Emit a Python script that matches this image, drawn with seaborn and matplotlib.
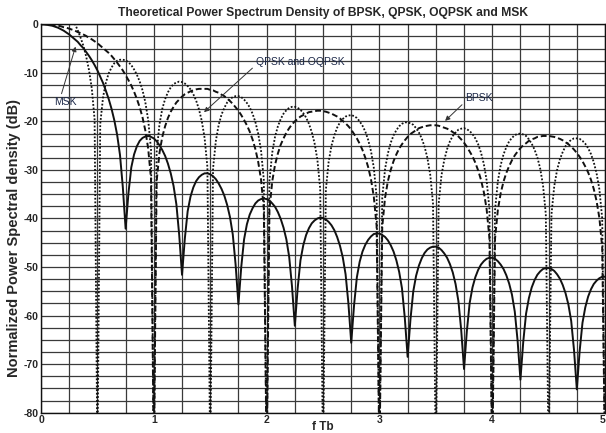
import numpy as np
import pandas as pd
import seaborn as sns
import matplotlib.pyplot as plt

# normalized frequency f*Tb, sampled every 0.025 from 0 to 5
f_tb = np.round(np.arange(201) * 0.025, 3)

# PSD values in dB (-90 = null that runs off the bottom)
bpsk_db = [
    0.0, -0.0, -0.0, -0.1, -0.1, -0.2, -0.3, -0.4, -0.6, -0.7,
    -0.9, -1.1, -1.3, -1.6, -1.8, -2.1, -2.4, -2.8, -3.1, -3.5,
    -3.9, -4.4, -4.9, -5.4, -5.9, -6.5, -7.2, -7.9, -8.7, -9.5,
    -10.5, -11.5, -12.6, -13.9, -15.4, -17.1, -19.2, -21.9, -25.6, -31.8,
    -90, -32.3, -26.5, -23.2, -21.0, -19.3, -18.0, -17.0, -16.1, -15.5,
    -14.9, -14.4, -14.1, -13.8, -13.6, -13.4, -13.3, -13.3, -13.3, -13.3,
    -13.5, -13.6, -13.9, -14.1, -14.5, -14.8, -15.3, -15.8, -16.4, -17.1,
    -17.8, -18.7, -19.7, -20.8, -22.1, -23.7, -25.7, -28.3, -31.9, -38.0,
    -90, -38.2, -32.3, -28.9, -26.6, -24.8, -23.5, -22.3, -21.4, -20.6,
    -20.0, -19.5, -19.0, -18.7, -18.4, -18.1, -18.0, -17.9, -17.8, -17.8,
    -17.9, -18.0, -18.2, -18.4, -18.7, -19.0, -19.4, -19.9, -20.4, -21.0,
    -21.7, -22.6, -23.5, -24.6, -25.9, -27.5, -29.4, -31.9, -35.5, -41.5,
    -90, -41.7, -35.7, -32.3, -30.0, -28.2, -26.8, -25.6, -24.7, -23.9,
    -23.2, -22.6, -22.2, -21.8, -21.4, -21.2, -21.0, -20.9, -20.8, -20.8,
    -20.8, -20.9, -21.1, -21.3, -21.5, -21.8, -22.2, -22.6, -23.1, -23.7,
    -24.4, -25.2, -26.2, -27.2, -28.5, -30.1, -32.0, -34.5, -38.0, -44.0,
    -90, -44.1, -38.2, -34.8, -32.4, -30.6, -29.2, -28.0, -27.0, -26.2,
    -25.5, -24.9, -24.5, -24.0, -23.7, -23.5, -23.2, -23.1, -23.0, -23.0,
    -23.0, -23.1, -23.2, -23.4, -23.6, -23.9, -24.3, -24.7, -25.2, -25.8,
    -26.5, -27.3, -28.2, -29.3, -30.5, -32.0, -33.9, -36.4, -39.9, -46.0,
    -90,
]

qpsk_db = [
    6.0, 6.0, 5.9, 5.7, 5.4, 5.1, 4.7, 4.2, 3.6, 2.9,
    2.1, 1.2, 0.1, -1.2, -2.7, -4.4, -6.6, -9.4, -13.2, -19.6,
    -90, -20.5, -15.0, -12.0, -10.1, -8.9, -8.0, -7.5, -7.3, -7.3,
    -7.4, -7.8, -8.4, -9.3, -10.4, -11.8, -13.6, -16.1, -19.7, -25.8,
    -90, -26.3, -20.6, -17.4, -15.4, -14.0, -13.0, -12.3, -12.0, -11.8,
    -11.9, -12.2, -12.7, -13.4, -14.4, -15.7, -17.5, -19.9, -23.4, -29.4,
    -90, -29.7, -24.0, -20.7, -18.6, -17.2, -16.1, -15.4, -15.0, -14.8,
    -14.8, -15.0, -15.5, -16.2, -17.1, -18.4, -20.1, -22.5, -25.9, -32.0,
    -90, -32.2, -26.4, -23.1, -21.0, -19.5, -18.4, -17.7, -17.2, -17.0,
    -17.0, -17.2, -17.6, -18.3, -19.2, -20.5, -22.2, -24.5, -27.9, -33.9,
    -90, -34.1, -28.3, -25.0, -22.9, -21.3, -20.2, -19.5, -19.0, -18.8,
    -18.7, -18.9, -19.3, -20.0, -20.9, -22.1, -23.8, -26.1, -29.5, -35.5,
    -90, -35.7, -29.8, -26.6, -24.4, -22.9, -21.8, -21.0, -20.5, -20.2,
    -20.2, -20.4, -20.7, -21.4, -22.3, -23.5, -25.2, -27.5, -30.9, -36.9,
    -90, -37.0, -31.1, -27.9, -25.7, -24.1, -23.0, -22.3, -21.7, -21.5,
    -21.4, -21.6, -22.0, -22.6, -23.5, -24.7, -26.4, -28.7, -32.1, -38.0,
    -90, -38.2, -32.3, -29.0, -26.8, -25.3, -24.1, -23.4, -22.8, -22.6,
    -22.5, -22.7, -23.0, -23.7, -24.6, -25.8, -27.4, -29.7, -33.1, -39.1,
    -90, -39.2, -33.3, -30.0, -27.8, -26.3, -25.1, -24.3, -23.8, -23.5,
    -23.5, -23.6, -24.0, -24.6, -25.5, -26.7, -28.4, -30.7, -34.0, -40.0,
    -90,
]

msk_db = [
    0.0, -0.0, -0.1, -0.2, -0.3, -0.5, -0.7, -1.0, -1.3, -1.7,
    -2.1, -2.6, -3.1, -3.6, -4.3, -4.9, -5.7, -6.5, -7.4, -8.4,
    -9.5, -10.8, -12.1, -13.7, -15.4, -17.4, -19.8, -22.8, -26.9, -33.5,
    -42.1, -34.8, -29.5, -26.8, -25.1, -24.0, -23.4, -23.1, -23.0, -23.2,
    -23.5, -24.1, -24.9, -25.9, -27.1, -28.7, -30.7, -33.3, -37.1, -43.4,
    -51.6, -44.1, -38.5, -35.5, -33.6, -32.3, -31.5, -31.0, -30.7, -30.7,
    -30.9, -31.3, -31.9, -32.8, -33.9, -35.3, -37.2, -39.7, -43.3, -49.5,
    -57.7, -50.0, -44.3, -41.2, -39.2, -37.9, -36.9, -36.3, -36.0, -35.9,
    -36.0, -36.3, -36.9, -37.6, -38.7, -40.1, -41.9, -44.3, -47.9, -54.0,
    -62.1, -54.4, -48.6, -45.5, -43.4, -42.0, -41.0, -40.4, -40.0, -39.8,
    -39.9, -40.2, -40.7, -41.4, -42.4, -43.8, -45.6, -48.0, -51.5, -57.5,
    -65.6, -57.9, -52.1, -48.9, -46.8, -45.4, -44.4, -43.7, -43.2, -43.1,
    -43.1, -43.4, -43.8, -44.5, -45.5, -46.8, -48.6, -51.0, -54.4, -60.5,
    -68.5, -60.8, -55.0, -51.8, -49.7, -48.2, -47.1, -46.4, -46.0, -45.8,
    -45.8, -46.0, -46.5, -47.2, -48.1, -49.4, -51.1, -53.5, -57.0, -63.0,
    -71.0, -63.2, -57.4, -54.2, -52.1, -50.6, -49.5, -48.8, -48.3, -48.1,
    -48.1, -48.3, -48.8, -49.5, -50.4, -51.7, -53.4, -55.7, -59.2, -65.2,
    -73.2, -65.4, -59.6, -56.4, -54.2, -52.7, -51.6, -50.9, -50.4, -50.2,
    -50.2, -50.4, -50.8, -51.5, -52.4, -53.7, -55.4, -57.7, -61.1, -67.1,
    -75.2, -67.3, -61.5, -58.3, -56.1, -54.6, -53.5, -52.8, -52.3, -52.0,
    -52.0,
]

x_ticks = [0, 1, 2, 3, 4, 5]
y_ticks = [0, -10, -20, -30, -40, -50, -60, -70, -80]

df = pd.DataFrame({"f": f_tb, "BPSK": bpsk_db, "QPSK": qpsk_db, "MSK": msk_db})

sns.set_style("white")
plt.rcParams["font.family"] = ["Liberation Sans", "DejaVu Sans"]

fig = plt.figure(figsize=(6.06, 4.33), dpi=100)
ax = fig.add_axes([0.0677, 0.0469, 0.9307, 0.897])

#grid every 0.25 in f and 2.5 dB
ax.set_xticks(x_ticks)
ax.set_xticks(np.arange(0, 5.01, 0.25), minor=True)
ax.set_yticks(y_ticks)
ax.set_yticks(np.arange(-80, 0.1, 2.5), minor=True)
ax.grid(which="both", color="#3a3a3a", linewidth=0.9)
ax.set_axisbelow(True)

sns.lineplot(data=df, x="f", y="QPSK", ax=ax, color="#111111", linewidth=1.3,
             linestyle=(0, (1, 1)), estimator=None, sort=False)
sns.lineplot(data=df, x="f", y="BPSK", ax=ax, color="#111111", linewidth=1.4,
             linestyle=(0, (3, 1.5)), estimator=None, sort=False)
sns.lineplot(data=df, x="f", y="MSK", ax=ax, color="#111111", linewidth=1.4,
             estimator=None, sort=False)

ax.set_xlim(0, 5)
ax.set_ylim(-80, 0)

ax.set_xticklabels([str(t) for t in x_ticks], fontweight="bold", fontsize=7.5)
ax.set_yticklabels([str(t) for t in y_ticks], fontweight="bold", fontsize=7.5)
ax.get_xticklabels()[-1].set_horizontalalignment("right")
ax.tick_params(which="both", length=0, pad=2)

ax.set_xlabel("f Tb", fontweight="bold", fontsize=8.5)
ax.xaxis.set_label_coords(0.5, -0.022)
ax.set_ylabel("Normalized Power Spectral density (dB)", fontweight="bold",
              fontsize=10.5)
ax.yaxis.set_label_coords(-0.036, 0.45)
ax.set_title("Theoretical Power Spectrum Density of BPSK, QPSK, OQPSK and MSK",
             fontweight="bold", fontsize=8.7, pad=6)

for s in ax.spines.values():
    s.set_color("#111111")
    s.set_linewidth(1.0)

#labels with arrows
arrow = dict(arrowstyle="-|>", color="#333333", lw=0.7, mutation_scale=7,
             shrinkA=0, shrinkB=0)
ax.annotate("MSK", xy=(0.306, -4.6), xytext=(0.213, -16.0), ha="center",
            va="center", fontsize=7.5, color="#1c2848",
            arrowprops=dict(arrow, relpos=(0.3, 1.0)))
ax.annotate("QPSK and OQPSK", xy=(1.445, -18.1), xytext=(2.296, -7.8),
            ha="center", va="center", fontsize=7.5, color="#1c2848",
            arrowprops=dict(arrow, relpos=(0.0, 0.2)))
ax.annotate("BPSK", xy=(3.582, -19.9), xytext=(3.883, -15.1), ha="center",
            va="center", fontsize=7.5, color="#1c2848",
            arrowprops=dict(arrow, relpos=(0.0, 0.1)))

fig.savefig("out.png", dpi=100)
